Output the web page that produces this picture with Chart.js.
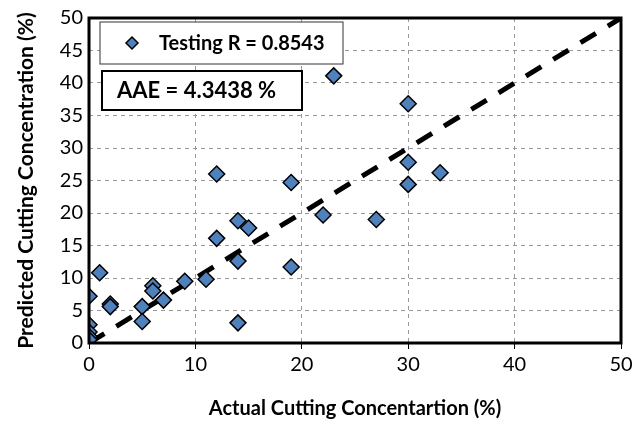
<!DOCTYPE html>
<html>
<head>
<meta charset="utf-8">
<script src="https://cdn.jsdelivr.net/npm/chart.js@4.4.0/dist/chart.umd.min.js"></script>
<style>
  html, body { margin: 0; padding: 0; background: #fff; }
  #wrap { width: 643px; height: 425px; }
</style>
</head>
<body>
<div id="wrap"><canvas id="myChart" width="643" height="425"></canvas></div>
<script>
// actual vs predicted cutting concentration (%)
const actual    = [23, 30, 30, 30, 33, 12, 19, 22, 27, 14, 15, 12, 14, 19, 1, 11, 9, 6, 6, 7, 0, 2, 2, 5, 5, 14, 0, 0, 0, 0];
const predicted = [41.1, 36.8, 27.8, 24.4, 26.2, 26.0, 24.7, 19.7, 19.0, 18.8, 17.7, 16.1, 12.6, 11.7, 10.8, 9.8, 9.5, 8.8, 8.0, 6.6, 7.2, 6.0, 5.6, 5.6, 3.3, 3.1, 2.8, 1.7, 1.0, 0.5];
const idealX = [0, 50];
const idealY = [0, 50];
const legendText = 'Testing R = 0.8543';
const aaeText = 'AAE = 4.3438 %';

const ctx = document.getElementById('myChart');

const boxPlugin = {
  id: 'boxes',
  afterDraw(chart) {
    const c = chart.ctx;
    const a = chart.chartArea;
    c.save();
    // frame
    c.strokeStyle = '#000';
    c.lineWidth = 3;
    c.strokeRect(a.left, a.top, a.right - a.left, a.bottom - a.top);

    // legend box
    c.fillStyle = '#fff';
    c.fillRect(a.left + 11, a.top + 4, 243, 42);
    c.lineWidth = 1;
    c.strokeStyle = '#333';
    c.strokeRect(a.left + 11, a.top + 4, 243, 42);
    // diamond marker
    const mx = a.left + 43, my = a.top + 25;
    c.beginPath();
    c.moveTo(mx, my - 6); c.lineTo(mx + 6, my); c.lineTo(mx, my + 6); c.lineTo(mx - 6, my);
    c.closePath();
    c.fillStyle = '#4F81BD';
    c.fill();
    c.lineWidth = 1.5;
    c.strokeStyle = '#000';
    c.stroke();
    c.fillStyle = '#000';
    c.font = 'bold 20px Lato';
    c.textBaseline = 'middle';
    c.fillText(legendText, a.left + 70, my + 1);

    // AAE box
    c.fillStyle = '#fff';
    c.fillRect(a.left + 13, a.top + 53, 200, 39);
    c.lineWidth = 2;
    c.strokeStyle = '#000';
    c.strokeRect(a.left + 13, a.top + 53, 200, 39);
    c.fillStyle = '#000';
    c.font = 'bold 22px Lato';
    c.fillText(aaeText, a.left + 28, a.top + 73);
    c.restore();
  }
};

new Chart(ctx, {
  type: 'scatter',
  data: {
    datasets: [{
      label: legendText,
      data: actual.map((x, i) => ({ x: x, y: predicted[i] })),
      pointStyle: 'rectRot',
      pointRadius: 8,
      pointHoverRadius: 8,
      backgroundColor: '#4F81BD',
      borderColor: '#000',
      borderWidth: 1.5,
      order: 1
    }, {
      label: 'ideal',
      type: 'line',
      data: idealX.map((x, i) => ({ x: x, y: idealY[i] })),
      borderColor: '#000',
      borderWidth: 5,
      borderDash: [18, 14],
      pointRadius: 0,
      fill: false,
      order: 2
    }]
  },
  options: {
    responsive: false,
    animation: false,
    layout: { padding: { top: 18, right: 22, left: 10, bottom: 0 } },
    plugins: {
      legend: { display: false },
      tooltip: { enabled: false }
    },
    scales: {
      x: {
        type: 'linear',
        min: 0, max: 50,
        afterFit(s) { s.height = 82; },
        ticks: { stepSize: 10, color: '#000', padding: 4, font: { family: 'Lato', size: 20 } },
        grid: { color: '#999', lineWidth: 1, tickLength: 6, tickColor: '#000', drawTicks: true },
        border: { display: false, dash: [4, 4] },
        title: { display: true, text: 'Actual Cutting Concentartion (%)', color: '#000', font: { family: 'Lato', size: 20, weight: 'bold' }, padding: { top: 6 } }
      },
      y: {
        type: 'linear',
        min: 0, max: 50,
        afterFit(s) { s.width = 79; },
        ticks: { stepSize: 5, color: '#000', padding: 6, font: { family: 'Lato', size: 20 } },
        grid: { color: '#999', lineWidth: 1, drawTicks: false },
        border: { display: false, dash: [4, 4] },
        title: { display: true, text: 'Predicted Cutting Concentration (%)', color: '#000', font: { family: 'Lato', size: 21, weight: 'bold' }, padding: { bottom: 4 } }
      }
    }
  },
  plugins: [boxPlugin]
});
</script>
</body>
</html>
